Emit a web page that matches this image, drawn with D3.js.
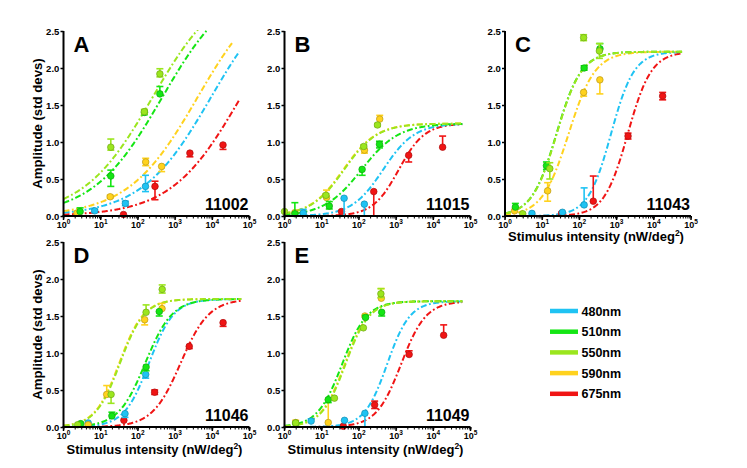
<!DOCTYPE html>
<html>
<head>
<meta charset="utf-8">
<script src="https://cdn.jsdelivr.net/npm/d3@7"></script>
<style>
  html, body { margin: 0; padding: 0; background: #fff; }
  svg { display: block; font-family: "Liberation Sans", Arial, sans-serif; font-weight: bold; }
</style>
</head>
<body>
<svg id="chart" width="747" height="468"></svg>
<script>
// ---------------- DATA ----------------
const wavelengths = ["480nm", "510nm", "550nm", "590nm", "675nm"];
const panelLetters = ["A", "B", "C", "D", "E"];
const cellIds = ["11002", "11015", "11043", "11046", "11049"];
const yTickValues = [0, 0.5, 1.0, 1.5, 2.0, 2.5];
const xTickExponents = [0, 1, 2, 3, 4, 5];
const yTitle = "Amplitude (std devs)";
const xTitleMain = "Stimulus intensity (nW/deg";
const xTitleSup = "2";

// Hill-fit parameters per panel (rows A..E), per wavelength (480,510,550,590,675)
const fitRmax = [3.2, 1.25, 2.22, 1.73, 1.70];
const fitSlope = [
  [0.465, 0.465, 0.465, 0.465, 0.465],
  [1.03, 0.87, 0.97, 0.97, 1.25],
  [1.40, 1.30, 1.30, 1.22, 1.37],
  [1.30, 1.20, 1.32, 1.32, 1.14],
  [1.42, 1.31, 1.36, 1.36, 1.30]
];
const fitLogEC50 = [
  [3.96, 2.65, 2.39, 3.60, 4.76],
  [2.65, 2.07, 1.60, 1.58, 3.07],
  [2.85, 1.383, 1.39, 1.71, 3.30],
  [2.30, 2.20, 1.52, 1.50, 3.15],
  [2.76, 1.55, 1.64, 1.62, 3.135]
];
const fitLogXEnd = [
  [4.73, 4.78, 4.78, 4.53, 4.73],
  [4.78, 4.78, 4.78, 4.78, 4.78],
  [4.76, 4.76, 4.76, 4.76, 4.76],
  [4.78, 4.78, 4.78, 4.78, 4.78],
  [4.78, 4.78, 4.78, 4.78, 4.78]
];

// points: [intensity, amplitude, errDown, errUp], per wavelength (480,510,550,590,675)
const pointsA = [
  [[6.9, 0.07, 0.02, 0.02], [46, 0.17, 0.03, 0.03], [160, 0.40, 0.07, 0.15]],
  [[2.8, 0.06, 0.0, 0.05], [18.7, 0.54, 0.14, 0.08], [150, 1.40, 0.03, 0.03], [390, 1.65, 0.0, 0.10]],
  [[18.7, 0.93, 0.04, 0.11], [149, 1.41, 0.03, 0.03], [390, 1.92, 0.04, 0.07]],
  [[2.3, 0.04, 0.0, 0.0], [18, 0.26, 0.02, 0.02], [162, 0.73, 0.05, 0.05], [435, 0.67, 0.07, 0.0]],
  [[41, 0.02, 0.0, 0.0], [288, 0.40, 0.18, 0.07], [2500, 0.85, 0.05, 0.0], [19400, 0.96, 0.06, 0.0]]
];
const pointsB = [
  [[3.2, 0.04, 0.0, 0.05], [40, 0.24, 0.24, 0.0], [140, 0.16, 0.16, 0.0]],
  [[1.9, 0.03, 0.0, 0.15], [16, 0.135, 0.04, 0.06], [122, 0.63, 0.08, 0.0], [357, 0.97, 0.05, 0.04]],
  [[1.0, 0.06, 0.0, 0.0], [13, 0.28, 0.02, 0.02], [135, 0.94, 0.02, 0.02], [316, 1.23, 0.02, 0.02]],
  [[1.9, 0.045, 0.0, 0.0], [13.5, 0.25, 0.0, 0.10], [141, 0.89, 0.04, 0.0], [363, 1.31, 0.0, 0.05]],
  [[34, 0.06, 0.0, 0.0], [251, 0.33, 0.33, 0.0], [2180, 0.82, 0.09, 0.0], [17800, 0.93, 0.0, 0.15]]
];
const pointsC = [
  [[5.3, 0.035, 0.0, 0.0], [35, 0.05, 0.0, 0.0], [134, 0.15, 0.0, 0.23]],
  [[1.9, 0.12, 0.0, 0.05], [13, 0.68, 0.05, 0.05], [134, 2.0, 0.03, 0.03], [357, 2.26, 0.0, 0.07]],
  [[3.0, 0.03, 0.0, 0.0], [16, 0.64, 0.14, 0.08], [130, 2.41, 0.04, 0.04], [345, 2.23, 0.1, 0.1]],
  [[1.8, 0.07, 0.0, 0.0], [14, 0.34, 0.14, 0.11], [130, 1.67, 0.05, 0.0], [355, 1.84, 0.19, 0.0]],
  [[33, 0.035, 0.0, 0.0], [236, 0.20, 0.0, 0.34], [2030, 1.08, 0.04, 0.04], [17300, 1.62, 0.05, 0.05]]
];
const pointsD = [
  [[4.6, 0.055, 0.0, 0.0], [45, 0.18, 0.05, 0.0], [162, 0.71, 0.05, 0.0]],
  [[2.9, 0.045, 0.0, 0.0], [20, 0.15, 0.0, 0.05], [166, 0.81, 0.05, 0.0], [375, 1.56, 0.06, 0.0]],
  [[2.4, 0.03, 0.0, 0.0], [19, 0.44, 0.12, 0.0], [166, 1.55, 0.0, 0.10], [450, 1.86, 0.05, 0.06]],
  [[4.6, 0.03, 0.0, 0.0], [14.5, 0.44, 0.0, 0.12], [152, 1.45, 0.07, 0.0], [445, 1.60, 0.0, 0.07]],
  [[42, 0.09, 0.0, 0.0], [282, 0.47, 0.03, 0.03], [2400, 1.09, 0.03, 0.0], [19500, 1.41, 0.05, 0.0]]
];
const pointsE = [
  [[5.2, 0.08, 0.0, 0.03], [41, 0.09, 0.0, 0.0], [145, 0.185, 0.185, 0.0]],
  [[2.0, 0.05, 0.0, 0.0], [15, 0.37, 0.04, 0.0], [151, 1.48, 0.0, 0.03], [410, 1.55, 0.05, 0.0]],
  [[2.0, 0.055, 0.0, 0.0], [22, 0.39, 0.0, 0.0], [132, 1.34, 0.0, 0.0], [390, 1.80, 0.05, 0.07]],
  [[2.0, 0.06, 0.0, 0.03], [15, 0.06, 0.0, 0.31], [145, 1.50, 0.0, 0.0], [400, 1.74, 0.0, 0.13]],
  [[38, 0.01, 0.0, 0.0], [265, 0.30, 0.05, 0.05], [2240, 0.98, 0.0, 0.05], [19000, 1.24, 0.0, 0.14]]
];
const panelPoints = [pointsA, pointsB, pointsC, pointsD, pointsE];

// ---------------- STYLE / LAYOUT ----------------
const colors = ["#1fc3f3", "#14e614", "#9be61e", "#ffd21e", "#f01414"];
const panelLeft = [63.5, 284.5, 505, 63.5, 284.5];
const panelTop = [31, 31, 31, 242, 242];
const PW = 186, PH = 185;
const showYTitle = [true, false, false, true, false];
const xTitleOffset = [null, null, 25, 26.6, 26.6];
const drawOrder = [4, 0, 3, 1, 2];

const svg = d3.select("#chart");

function hill(logx, R, n, logK) {
  return R / (1 + Math.pow(10, n * (logK - logx)));
}

panelLetters.forEach((letter, p) => {
  const g = svg.append("g").attr("transform", `translate(${panelLeft[p]},${panelTop[p]})`);
  const x = d3.scaleLog().domain([1, 1e5]).range([0, PW]);
  const y = d3.scaleLinear().domain([0, 2.5]).range([PH, 0]);

  const clipId = "clip" + p;
  g.append("clipPath").attr("id", clipId)
    .append("rect").attr("x", 0).attr("y", -1).attr("width", PW + 2).attr("height", PH + 1);

  // curves
  const line = d3.line().x(d => x(Math.pow(10, d[0]))).y(d => y(d[1]));
  const plot = g.append("g").attr("clip-path", `url(#${clipId})`);
  drawOrder.forEach(w => {
    const pts = [];
    const end = fitLogXEnd[p][w];
    for (let lx = 0; lx <= end + 1e-9; lx += 0.02) {
      pts.push([lx, hill(lx, fitRmax[p], fitSlope[p][w], fitLogEC50[p][w])]);
    }
    pts.push([end, hill(end, fitRmax[p], fitSlope[p][w], fitLogEC50[p][w])]);
    plot.append("path").attr("d", line(pts))
      .attr("fill", "none").attr("stroke", colors[w]).attr("stroke-width", 2)
      .attr("stroke-dasharray", "6,2.5,1.8,2.5");
  });

  // error bars & points
  drawOrder.forEach(w => {
    const c = colors[w];
    const dc = d3.color(c).darker(0.9).formatHex();
    panelPoints[p][w].forEach(d => {
      const px = x(d[0]), py = y(d[1]);
      if (d[2] > 0) {
        const yb = y(Math.max(0, d[1] - d[2]));
        g.append("line").attr("x1", px).attr("x2", px).attr("y1", py).attr("y2", yb)
          .attr("stroke", c).attr("stroke-width", 1.6);
        if (d[1] - d[2] > 0.001)
          g.append("line").attr("x1", px - 3.5).attr("x2", px + 3.5).attr("y1", yb).attr("y2", yb)
            .attr("stroke", c).attr("stroke-width", 1.6);
      }
      if (d[3] > 0) {
        const yt = y(d[1] + d[3]);
        g.append("line").attr("x1", px).attr("x2", px).attr("y1", py).attr("y2", yt)
          .attr("stroke", c).attr("stroke-width", 1.6);
        g.append("line").attr("x1", px - 3.5).attr("x2", px + 3.5).attr("y1", yt).attr("y2", yt)
          .attr("stroke", c).attr("stroke-width", 1.6);
      }
      g.append("circle").attr("cx", px).attr("cy", py).attr("r", 3.3)
        .attr("fill", c).attr("stroke", dc).attr("stroke-width", 0.7);
    });
  });

  // axes
  const yAxis = d3.axisLeft(y).tickValues(yTickValues).tickFormat(d3.format(".1f"))
    .tickSize(3).tickPadding(1.2);
  const ya = g.append("g").call(yAxis);
  ya.select(".domain").attr("stroke-width", 2).attr("d", `M0,${PH + 1}V0`);
  ya.selectAll(".tick line").attr("stroke-width", 1.5);
  ya.selectAll("text").attr("font-size", 9.5).attr("font-weight", "bold").attr("fill", "#000")
    .attr("font-family", "Liberation Sans, Arial, sans-serif");

  const minorTicks = [];
  for (let e = 0; e < 5; e++) for (let m = 1; m < 10; m++) minorTicks.push(m * Math.pow(10, e));
  minorTicks.push(1e5);
  const xAxis = d3.axisBottom(x).tickValues(minorTicks).tickSize(2.5).tickFormat("");
  const xa = g.append("g").attr("transform", `translate(0,${PH})`).call(xAxis);
  xa.select(".domain").attr("stroke-width", 2).attr("d", `M-1,0H${PW}`);
  xa.selectAll(".tick line").attr("stroke-width", 1);
  // major ticks and labels
  xTickExponents.forEach(e => {
    const tx = x(Math.pow(10, e));
    xa.append("line").attr("x1", tx).attr("x2", tx).attr("y1", 0).attr("y2", 4)
      .attr("stroke", "#000").attr("stroke-width", 1.5);
    const t = xa.append("text").attr("x", tx).attr("y", 11.5).attr("text-anchor", "middle")
      .attr("font-size", 9).attr("fill", "#000");
    t.append("tspan").text("10");
    t.append("tspan").attr("dy", -3.5).attr("font-size", 6.5).text(String(e));
  });

  // panel letter & cell id
  g.append("text").attr("x", 10).attr("y", 21).attr("font-size", 22).attr("fill", "#000").text(letter);
  g.append("text").attr("x", PW - 1).attr("y", PH - 6.5).attr("text-anchor", "end")
    .attr("font-size", 16).attr("fill", "#000").text(cellIds[p]);

  if (showYTitle[p]) {
    g.append("text").attr("transform", `translate(${-22},${PH / 2}) rotate(-90)`)
      .attr("text-anchor", "middle").attr("font-size", 13.2).attr("fill", "#000").text(yTitle);
  }
  if (xTitleOffset[p] !== null) {
    const t = g.append("text").attr("x", PW / 2 - 2).attr("y", PH + xTitleOffset[p]).attr("text-anchor", "middle")
      .attr("font-size", 13).attr("fill", "#000");
    t.append("tspan").text(xTitleMain);
    t.append("tspan").attr("dy", -5).attr("font-size", 8.5).text(xTitleSup);
    t.append("tspan").attr("dy", 5).text(")");
  }
});

// legend
const legend = svg.append("g").attr("transform", "translate(550,311)");
wavelengths.forEach((wl, i) => {
  const ly = i * 20.7;
  legend.append("line").attr("x1", 0).attr("x2", 28).attr("y1", ly).attr("y2", ly)
    .attr("stroke", colors[i]).attr("stroke-width", 4.5);
  legend.append("text").attr("x", 31.5).attr("y", ly + 4.5).attr("font-size", 12.5)
    .attr("fill", "#000").text(wl);
});
</script>
</body>
</html>
